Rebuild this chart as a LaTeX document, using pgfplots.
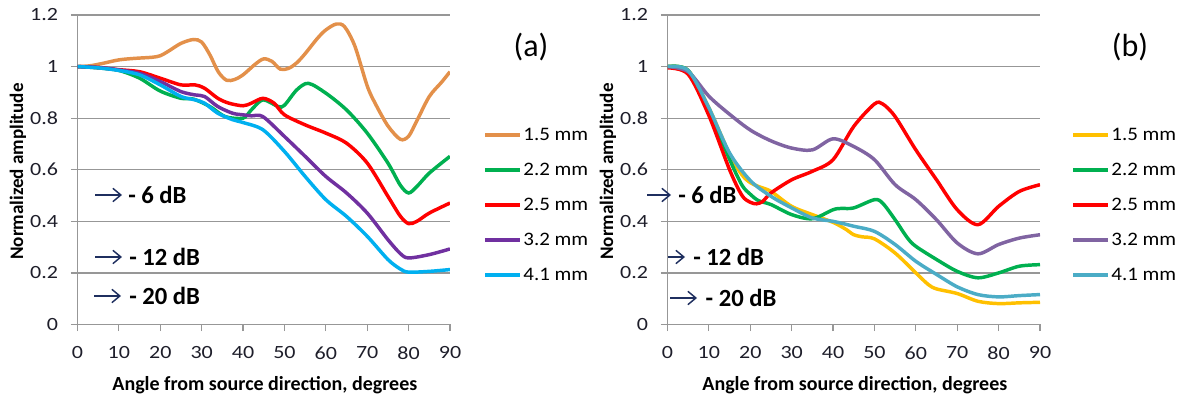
\documentclass[border=0pt]{standalone}
\usepackage{pgfplots}
\pgfplotsset{compat=1.18}
\usepackage{fontspec}
\setmainfont{Carlito}
\newfontfamily\chartfont{Carlito}[FakeStretch=1.18]
\newfontfamily\legfont{Carlito}[FakeStretch=1.1]
\usetikzlibrary{arrows.meta}
\definecolor{gridgray}{HTML}{979797}
\definecolor{tickcol}{HTML}{1E1E2A}
\definecolor{navyarrow}{HTML}{1F2F5F}
\definecolor{cOrange}{HTML}{E3904A}
\definecolor{cGreen}{HTML}{00B050}
\definecolor{cRed}{HTML}{FF0000}
\definecolor{cPurple}{HTML}{7030A0}
\definecolor{cBlue}{HTML}{00B0F0}
\definecolor{cYellow}{HTML}{FFC000}
\definecolor{cPurpleB}{HTML}{8064A2}
\definecolor{cTeal}{HTML}{4BACC6}
\pgfplotsset{
 panel/.style={
  scale only axis, width=279.375pt, height=232.125pt,
  xmin=0,xmax=90,ymin=0,ymax=1.2,
  xtick={0,10,...,90}, ytick={0,0.2,0.4,0.6,0.8,1,1.2},
  axis x line*=bottom, axis y line*=left,
  ymajorgrids, grid style={draw=gridgray, line width=0.9pt},
  axis line style={draw=gridgray, line width=0.9pt, -},
  tick style={draw=gridgray, line width=0.9pt},
  tick align=outside, major tick length=5pt,
  ticklabel style={font=\chartfont\fontsize{14}{16}\selectfont, text=tickcol},
  /pgf/number format/assume math mode=true,
  yticklabel style={/pgf/number format/fixed, /pgf/number format/precision=1, xshift=-6pt},
  xticklabel style={yshift=-8pt},
  xlabel={Angle from source direction, degrees},
  ylabel={Normalized amplitude},
  xlabel style={font=\bfseries\fontsize{15}{17}\selectfont, at={(axis description cs:0.503,-0.195)}, anchor=center},
  ylabel style={font=\bfseries\fontsize{14.3}{16}\selectfont, at={(axis description cs:-0.16,0.494)}, anchor=center},
  every axis plot/.append style={line width=2.6pt, smooth, tension=0.5},
  legend image code/.code={\draw[#1, line width=3pt] (0pt,0pt) -- (26.25pt,0pt);},
  legend cell align=left,
  legend style={anchor=north west, draw=none, fill=none, inner sep=0pt,
    row sep=11.5pt, column sep=0pt, nodes={inner xsep=1pt},
    font=\legfont\fontsize{14.3}{16}\selectfont},
 }
}
\begin{document}
\begin{tikzpicture}
\path (0pt,0pt) rectangle (885pt,297pt);
% ---------------- panel (a)
\begin{axis}[panel, at={(58.125pt,53.625pt)}, anchor=origin,
  legend style={at={(axis description cs:1.088,0.645)}}]
\addplot[cOrange] coordinates {(0,1.0)(3,1.003)(6,1.012)(10,1.026)(14,1.032)(18,1.036)(20,1.042)(22,1.06)(25,1.09)(28,1.105)(30,1.095)(32,1.045)(34,0.98)(36,0.947)(38,0.95)(40,0.968)(43,1.01)(45,1.03)(47,1.02)(49,0.99)(51,0.993)(53,1.015)(55,1.05)(58,1.11)(60,1.142)(62.5,1.165)(64.5,1.155)(67,1.08)(70,0.925)(72,0.855)(75,0.77)(78,0.718)(80,0.73)(82,0.79)(85,0.884)(88,0.94)(90,0.98)};
\addlegendentry{1.5 mm}
\addplot[cGreen] coordinates {(0,1.0)(5,0.995)(10,0.985)(15,0.955)(20,0.905)(25,0.877)(28,0.874)(32,0.845)(35.7,0.806)(40,0.8)(42,0.832)(44.8,0.871)(48.5,0.845)(50,0.85)(53,0.91)(55.8,0.935)(60,0.897)(65,0.832)(70,0.742)(75,0.626)(78,0.54)(80,0.51)(82,0.535)(85,0.587)(90,0.652)};
\addlegendentry{2.2 mm}
\addplot[cRed] coordinates {(0,1.0)(5,0.996)(10,0.988)(15,0.98)(20,0.955)(25,0.929)(28.4,0.929)(30.7,0.916)(33.9,0.877)(36.6,0.858)(40,0.848)(42,0.858)(44.8,0.877)(47.5,0.858)(50,0.813)(55,0.774)(60,0.742)(65,0.703)(70,0.626)(75,0.497)(78,0.42)(80,0.391)(82,0.4)(85,0.432)(90,0.471)};
\addlegendentry{2.5 mm}
\addplot[cPurple] coordinates {(0,1.0)(5,0.997)(10,0.987)(15,0.974)(20,0.942)(25,0.903)(28.4,0.89)(30.7,0.884)(33.9,0.845)(37.5,0.819)(40,0.813)(42,0.809)(44.8,0.806)(50,0.729)(55,0.652)(60,0.574)(65,0.51)(70,0.432)(75,0.329)(78,0.275)(80,0.258)(85,0.271)(90,0.293)};
\addlegendentry{3.2 mm}
\addplot[cBlue] coordinates {(0,1.0)(5,0.995)(10,0.985)(15,0.968)(20,0.929)(25,0.884)(28.4,0.871)(30.7,0.858)(33.9,0.819)(37.5,0.794)(40,0.783)(44.8,0.755)(50,0.671)(55,0.574)(60,0.484)(65,0.419)(70,0.342)(75,0.252)(78,0.215)(80,0.203)(85,0.206)(90,0.213)};
\addlegendentry{4.1 mm}
\end{axis}
% ---------------- panel (b)
\begin{axis}[panel, at={(500.625pt,53.625pt)}, anchor=origin,
  legend style={at={(axis description cs:1.0826,0.645)}}]
\addplot[cYellow] coordinates {(0,1.0)(5,0.985)(10,0.84)(15,0.66)(18,0.58)(20,0.55)(22,0.535)(25,0.516)(30,0.458)(35,0.426)(40,0.396)(43,0.37)(45,0.348)(47,0.34)(50,0.332)(55,0.277)(60,0.2)(63,0.155)(65,0.138)(70,0.12)(75,0.09)(80,0.081)(85,0.084)(90,0.086)};
\addlegendentry{1.5 mm}
\addplot[cGreen] coordinates {(0,1.0)(5,0.985)(10,0.83)(15,0.64)(18,0.54)(20,0.505)(22,0.48)(25,0.465)(30,0.426)(35,0.41)(40,0.445)(42,0.45)(45,0.452)(50,0.484)(52,0.47)(55,0.406)(58,0.335)(60,0.303)(65,0.252)(70,0.206)(75,0.181)(80,0.2)(85,0.226)(90,0.232)};
\addlegendentry{2.2 mm}
\addplot[cRed] coordinates {(0,0.995)(5,0.97)(10,0.81)(15,0.6)(18,0.5)(20,0.474)(21.5,0.468)(23,0.477)(25,0.51)(30,0.561)(35,0.594)(40,0.639)(45,0.768)(50,0.855)(52,0.855)(55,0.806)(60,0.677)(65,0.561)(70,0.445)(75,0.387)(80,0.458)(85,0.516)(90,0.542)};
\addlegendentry{2.5 mm}
\addplot[cPurpleB] coordinates {(0,1.0)(5,0.98)(10,0.885)(15,0.815)(20,0.754)(25,0.712)(30,0.684)(35,0.677)(40,0.72)(45,0.69)(50,0.639)(55,0.542)(60,0.484)(65,0.406)(70,0.316)(75,0.274)(80,0.31)(85,0.335)(90,0.348)};
\addlegendentry{3.2 mm}
\addplot[cTeal] coordinates {(0,1.0)(5,0.985)(10,0.84)(15,0.665)(20,0.558)(25,0.497)(30,0.452)(35,0.413)(40,0.4)(45,0.381)(50,0.361)(55,0.31)(60,0.245)(65,0.194)(70,0.146)(75,0.116)(80,0.107)(85,0.112)(90,0.116)};
\addlegendentry{4.1 mm}
\end{axis}
% ---------------- annotations
\tikzset{dbarrow/.style={draw=navyarrow, line width=1.1pt, -{Straight Barb[length=6pt,width=10pt]}},
         dbtext/.style={anchor=west, inner sep=0pt, font=\bfseries\fontsize{18.5}{20}\selectfont}}
\draw[dbarrow] (71.25pt,150.75pt) -- (91.5pt,150.75pt);
\node[dbtext] at (96pt,150.75pt) {- 6 dB};
\draw[dbarrow] (71.25pt,104.25pt) -- (91.5pt,104.25pt);
\node[dbtext] at (96.75pt,104.25pt) {- 12 dB};
\draw[dbarrow] (70.5pt,75pt) -- (90.75pt,75pt);
\node[dbtext] at (96.75pt,75pt) {- 20 dB};
\draw[dbarrow] (485.25pt,150.75pt) -- (503.25pt,150.75pt);
\node[dbtext] at (508.5pt,150.75pt) {- 6 dB};
\draw[dbarrow] (501pt,104.25pt) -- (513.75pt,104.25pt);
\node[dbtext] at (519.75pt,104.25pt) {- 12 dB};
\draw[dbarrow] (502.5pt,73.5pt) -- (522.75pt,73.5pt);
\node[dbtext] at (529.1pt,73.5pt) {- 20 dB};
\node[font=\fontsize{24}{26}\selectfont] at (398.25pt,261.75pt) {(a)};
\node[font=\fontsize{24}{26}\selectfont] at (847.5pt,261.75pt) {(b)};
\end{tikzpicture}
\end{document}
